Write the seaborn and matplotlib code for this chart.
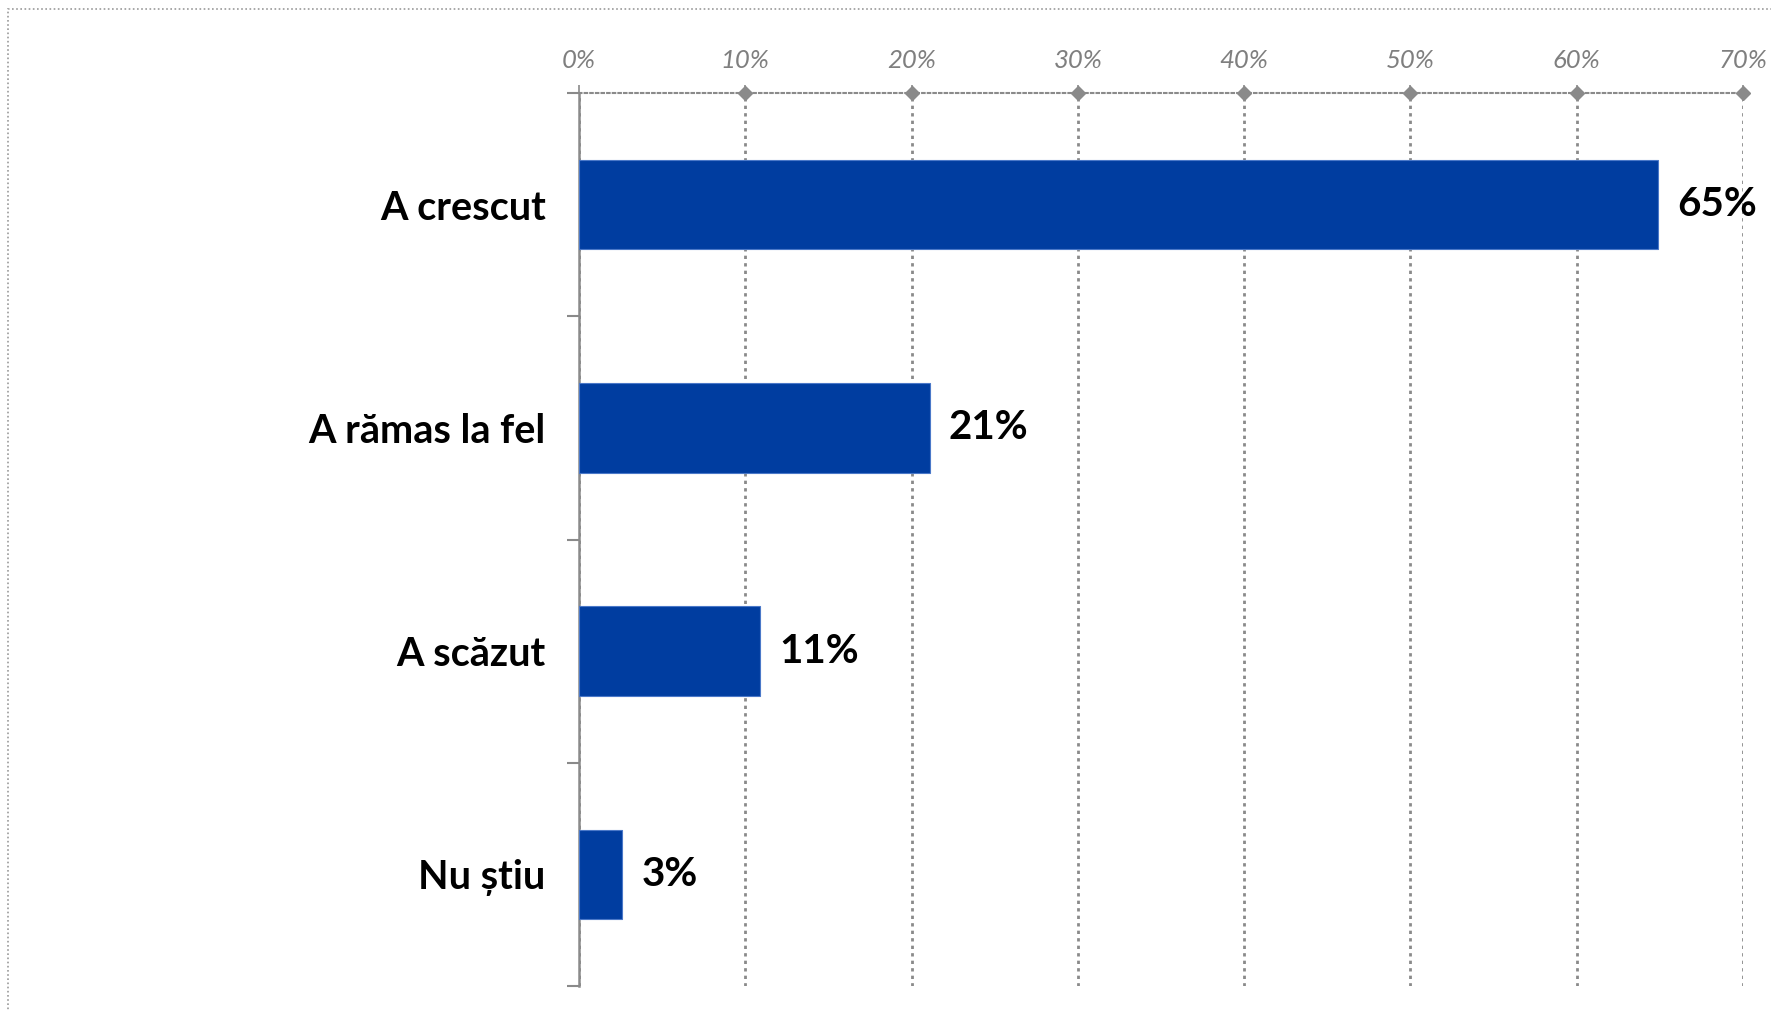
import numpy as np
import pandas as pd
import matplotlib
matplotlib.use("Agg")
import matplotlib.pyplot as plt
import matplotlib.ticker as ticker
from matplotlib.patches import Rectangle
import seaborn as sns

# date
categories = ["A crescut", "A rămas la fel", "A scăzut", "Nu știu"]
values = [64.9, 21.1, 10.9, 2.6]
x_ticks = [0, 10, 20, 30, 40, 50, 60, 70]

BAR_COLOR = "#003DA0"
GREY = "#8a8a8a"

df = pd.DataFrame({"categorie": categories, "procent": values})

sns.set_theme(style="white")
plt.rcParams["font.family"] = ["Lato", "DejaVu Sans"]

fig = plt.figure(figsize=(17.71, 10.11), dpi=100)
ax = fig.add_axes([579 / 1771, 1 - 986 / 1011, (1743 - 579) / 1771, (986 - 93) / 1011])

sns.barplot(data=df, x="procent", y="categorie", orient="h", color=BAR_COLOR,
            saturation=1, width=0.4, ax=ax, edgecolor="#4a78c8", linewidth=0.8, zorder=3)

ax.set_xlim(0, 70)
ax.set_ylim(3.5, -0.5)
ax.set_xlabel("")
ax.set_ylabel("")

# axa x sus
ax.xaxis.tick_top()
ax.xaxis.set_major_locator(ticker.FixedLocator(x_ticks))
ax.set_xticklabels([f"{t}%" for t in x_ticks])
ax.tick_params(axis="x", direction="out", length=6, width=1.2, color=GREY, pad=9,
               labelsize=18.5, labelcolor="#7f7f7f")
for lab in ax.get_xticklabels():
    lab.set_fontstyle("italic")

# grila verticala punctata
ax.grid(axis="x", color=GREY, linestyle=(0, (1.2, 1.5)), linewidth=2, zorder=0)
ax.grid(axis="y", visible=False)

# axa y
ax.yaxis.set_minor_locator(ticker.FixedLocator(np.arange(-0.5, len(categories), 1.0)))
ax.tick_params(axis="y", which="major", length=0, pad=24, labelsize=28.5, labelcolor="black")
ax.tick_params(axis="y", which="minor", left=True, length=9, width=1.5, color=GREY, direction="out")
for lab in ax.get_yticklabels():
    lab.set_fontweight("bold")

for s in ["right", "bottom"]:
    ax.spines[s].set_visible(False)
ax.spines["left"].set_color(GREY)
ax.spines["left"].set_linewidth(1.8)
ax.spines["top"].set_color(GREY)
ax.spines["top"].set_linewidth(1.5)
ax.spines["top"].set_linestyle((0, (1.2, 1.5)))

# romburi pe axa de sus
ax.plot(x_ticks[1:], [-0.5] * (len(x_ticks) - 1), linestyle="none", marker="D",
        markersize=7, color=GREY, clip_on=False, zorder=5)

# etichete valori
for i, v in enumerate(values):
    ax.text(v + 1.15, i, f"{v:.0f}%", va="center", ha="left", fontsize=29,
            fontweight="bold", color="black")

# chenar punctat
fig.patches.append(Rectangle((8 / 1771, -0.05), 1.1, 1 - 9 / 1011 + 0.05,
                             transform=fig.transFigure, fill=False, edgecolor="#9a9a9a",
                             linestyle=(0, (1, 1.5)), linewidth=1.2))

fig.savefig("out.png", dpi=100)
